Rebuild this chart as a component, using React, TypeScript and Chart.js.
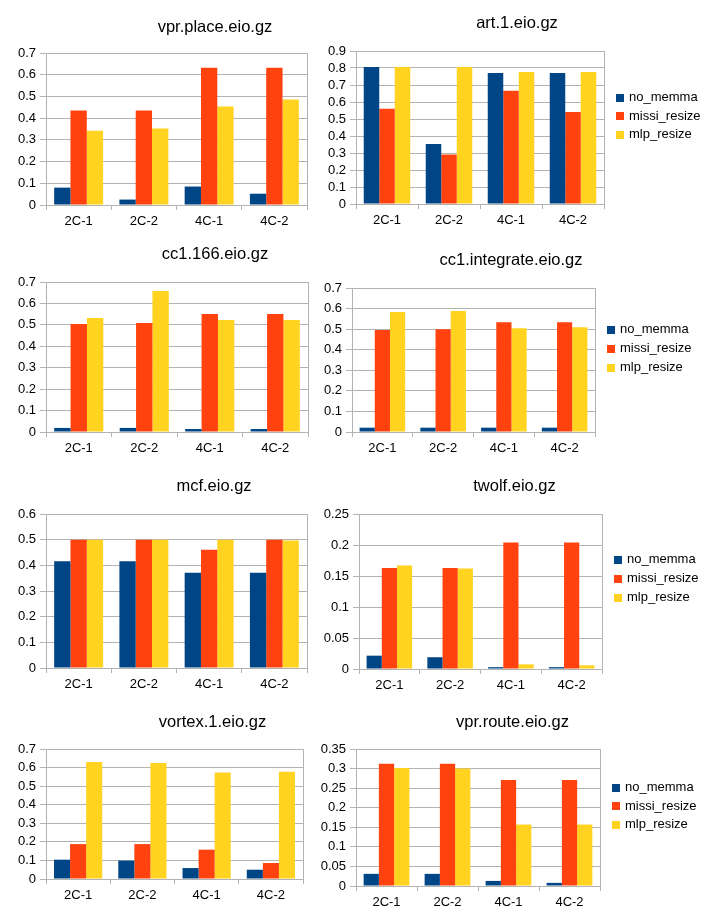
import React, { useEffect, useRef } from 'react';
import { Chart, registerables } from 'chart.js';

Chart.register(...registerables);

const FONT = "'Liberation Sans', Arial, sans-serif";
const GRID = '#b3b3b3';
const TEXT = '#000000';
const TITLE_SIZE = 16.5;

const categories = ['2C-1', '2C-2', '4C-1', '4C-2'];
const seriesNames = ['no_memma', 'missi_resize', 'mlp_resize'];
const seriesColors = ['#004586', '#ff420e', '#ffd320'];

const titles = [
  'vpr.place.eio.gz', 'art.1.eio.gz',
  'cc1.166.eio.gz', 'cc1.integrate.eio.gz',
  'mcf.eio.gz', 'twolf.eio.gz',
  'vortex.1.eio.gz', 'vpr.route.eio.gz',
];

// y-axis tick values
const ticks07 = [0, 0.1, 0.2, 0.3, 0.4, 0.5, 0.6, 0.7];
const ticks09 = [0, 0.1, 0.2, 0.3, 0.4, 0.5, 0.6, 0.7, 0.8, 0.9];
const ticks06 = [0, 0.1, 0.2, 0.3, 0.4, 0.5, 0.6];
const ticks025 = [0, 0.05, 0.1, 0.15, 0.2, 0.25];
const ticks035 = [0, 0.05, 0.1, 0.15, 0.2, 0.25, 0.3, 0.35];
const yTicks = [ticks07, ticks09, ticks07, ticks07, ticks06, ticks025, ticks07, ticks035];

const vprPlaceNoMemma = [0.080, 0.025, 0.085, 0.052];
const vprPlaceMissi = [0.435, 0.435, 0.632, 0.632];
const vprPlaceMlp = [0.342, 0.352, 0.454, 0.486];

const artNoMemma = [0.806, 0.353, 0.771, 0.771];
const artMissi = [0.560, 0.291, 0.666, 0.541];
const artMlp = [0.806, 0.806, 0.777, 0.777];

const cc1166NoMemma = [0.019, 0.019, 0.014, 0.014];
const cc1166Missi = [0.504, 0.509, 0.551, 0.551];
const cc1166Mlp = [0.532, 0.658, 0.523, 0.523];

const cc1IntNoMemma = [0.021, 0.021, 0.021, 0.021];
const cc1IntMissi = [0.496, 0.499, 0.533, 0.533];
const cc1IntMlp = [0.583, 0.588, 0.504, 0.509];

const mcfNoMemma = [0.416, 0.416, 0.371, 0.371];
const mcfMissi = [0.5, 0.5, 0.461, 0.5];
const mcfMlp = [0.5, 0.5, 0.5, 0.497];

const twolfNoMemma = [0.0215, 0.019, 0.003, 0.003];
const twolfMissi = [0.163, 0.163, 0.204, 0.204];
const twolfMlp = [0.167, 0.162, 0.0075, 0.006];

const vortexNoMemma = [0.104, 0.099, 0.059, 0.050];
const vortexMissi = [0.188, 0.188, 0.158, 0.086];
const vortexMlp = [0.630, 0.625, 0.573, 0.578];

const vprRouteNoMemma = [0.031, 0.031, 0.013, 0.008];
const vprRouteMissi = [0.312, 0.312, 0.271, 0.271];
const vprRouteMlp = [0.3015, 0.300, 0.157, 0.157];

const chartSeries = [
  [vprPlaceNoMemma, vprPlaceMissi, vprPlaceMlp],
  [artNoMemma, artMissi, artMlp],
  [cc1166NoMemma, cc1166Missi, cc1166Mlp],
  [cc1IntNoMemma, cc1IntMissi, cc1IntMlp],
  [mcfNoMemma, mcfMissi, mcfMlp],
  [twolfNoMemma, twolfMissi, twolfMlp],
  [vortexNoMemma, vortexMissi, vortexMlp],
  [vprRouteNoMemma, vprRouteMissi, vprRouteMlp],
];

// Layout (pixels): container position/clip, canvas size (w = 2 x title centre),
// title centre y, plot-area edges (canvas-relative)
const LAYOUT = [
  { x: 0, y: 0, clipW: 310, w: 430, h: 235, legend: false, tcy: 27, L: 46, R: 307, T: 53, B: 205 },
  { x: 310, y: 0, clipW: 413, w: 414, h: 235, legend: true, tcy: 23, L: 46, R: 294, T: 51, B: 204 },
  { x: 0, y: 235, clipW: 310, w: 430, h: 230, legend: false, tcy: 19.5, L: 46, R: 308, T: 47, B: 197 },
  { x: 310, y: 235, clipW: 413, w: 402, h: 230, legend: true, tcy: 25.5, L: 42, R: 285, T: 53, B: 197 },
  { x: 0, y: 465, clipW: 310, w: 428, h: 230, legend: false, tcy: 21.5, L: 46, R: 307, T: 49, B: 203 },
  { x: 310, y: 465, clipW: 413, w: 409, h: 230, legend: true, tcy: 21.5, L: 49, R: 292, T: 49, B: 204 },
  { x: 0, y: 695, clipW: 310, w: 425, h: 225, legend: false, tcy: 27.5, L: 46, R: 303, T: 54, B: 184 },
  { x: 310, y: 695, clipW: 413, w: 405, h: 225, legend: true, tcy: 27.5, L: 46, R: 290, T: 54, B: 191 },
];

function fmt(v: number | string) {
  return String(Number(Number(v).toFixed(3)));
}

const sideLegend = {
  id: 'sideLegend',
  afterDraw(chart: any) {
    const ctx = chart.ctx as CanvasRenderingContext2D;
    const area = chart.chartArea;
    const ds = chart.data.datasets;
    const n = ds.length;
    const cy = chart.height / 2 - 1.2;
    ctx.save();
    ctx.font = `13px ${FONT}`;
    ctx.textAlign = 'left';
    ctx.textBaseline = 'middle';
    ds.forEach((d: any, i: number) => {
      const y = cy + (i - (n - 1) / 2) * 18.7;
      ctx.fillStyle = d.backgroundColor;
      ctx.fillRect(Math.round(area.right + 12), Math.round(y - 4), 8, 8);
      ctx.fillStyle = TEXT;
      ctx.fillText(d.label, Math.round(area.right + 24.5), y - 0.3);
    });
    ctx.restore();
  },
};

function BarPanel({ idx }: { idx: number }) {
  const ref = useRef<HTMLCanvasElement>(null);
  const lay = LAYOUT[idx];

  useEffect(() => {
    const lh = TITLE_SIZE * 1.2;
    const chart = new Chart(ref.current as HTMLCanvasElement, {
      type: 'bar',
      data: {
        labels: categories,
        datasets: seriesNames.map((name, i) => ({
          label: name,
          data: chartSeries[idx][i],
          backgroundColor: seriesColors[i],
          borderWidth: 0,
          categoryPercentage: 0.75,
          barPercentage: 1.0,
        })),
      },
      options: {
        responsive: false,
        animation: false,
        events: [],
        layout: { padding: 0 },
        plugins: {
          tooltip: { enabled: false },
          legend: { display: false },
          title: {
            display: true,
            text: titles[idx],
            color: TEXT,
            font: { family: FONT, size: TITLE_SIZE, weight: 'normal' },
            padding: { top: lay.tcy - lh / 2, bottom: lay.T - lay.tcy - lh / 2 },
          },
        },
        scales: {
          x: {
            offset: true,
            grid: {
              offset: true,
              display: true,
              drawOnChartArea: true,
              drawTicks: true,
              tickLength: 5,
              color: (c: any) => (c.type === 'tick' && c.index > 0 ? 'rgba(0,0,0,0)' : GRID),
              tickColor: GRID,
              lineWidth: 1,
            },
            border: { display: true, color: GRID },
            ticks: {
              color: TEXT,
              font: { family: FONT, size: 13 },
              padding: 4,
              maxRotation: 0,
              minRotation: 0,
              autoSkip: false,
            },
            afterFit: (s: any) => { s.height = lay.h - lay.B; },
          },
          y: {
            min: 0,
            max: yTicks[idx][yTicks[idx].length - 1],
            grid: { color: GRID, tickLength: 6, lineWidth: 1, drawTicks: true },
            border: { display: true, color: GRID },
            ticks: {
              color: TEXT,
              font: { family: FONT, size: 13 },
              padding: 4,
              autoSkip: false,
              callback: (v: any) => fmt(v),
            },
            afterBuildTicks: (s: any) => { s.ticks = yTicks[idx].map((v) => ({ value: v })); },
            afterFit: (s: any) => { s.width = lay.L; },
          },
          spacer: {
            type: 'linear',
            position: 'right',
            display: true,
            grid: { display: false, drawTicks: false },
            border: { display: false },
            ticks: { display: false },
            afterFit: (s: any) => { s.width = lay.w - lay.R; },
          },
        },
      } as any,
      plugins: lay.legend ? [sideLegend] : [],
    });

    return () => chart.destroy();
  }, [idx]);

  return (
    <div
      style={{
        position: 'absolute',
        left: lay.x,
        top: lay.y,
        width: lay.clipW,
        height: lay.h,
        overflow: 'hidden',
      }}
    >
      <canvas ref={ref} width={lay.w} height={lay.h} style={{ display: 'block' }} />
    </div>
  );
}

export default function App() {
  return (
    <div
      style={{
        position: 'absolute',
        left: 0,
        top: 0,
        width: 723,
        height: 920,
        background: '#ffffff',
        overflow: 'hidden',
      }}
    >
      {LAYOUT.map((_, i) => (
        <BarPanel key={i} idx={i} />
      ))}
    </div>
  );
}
